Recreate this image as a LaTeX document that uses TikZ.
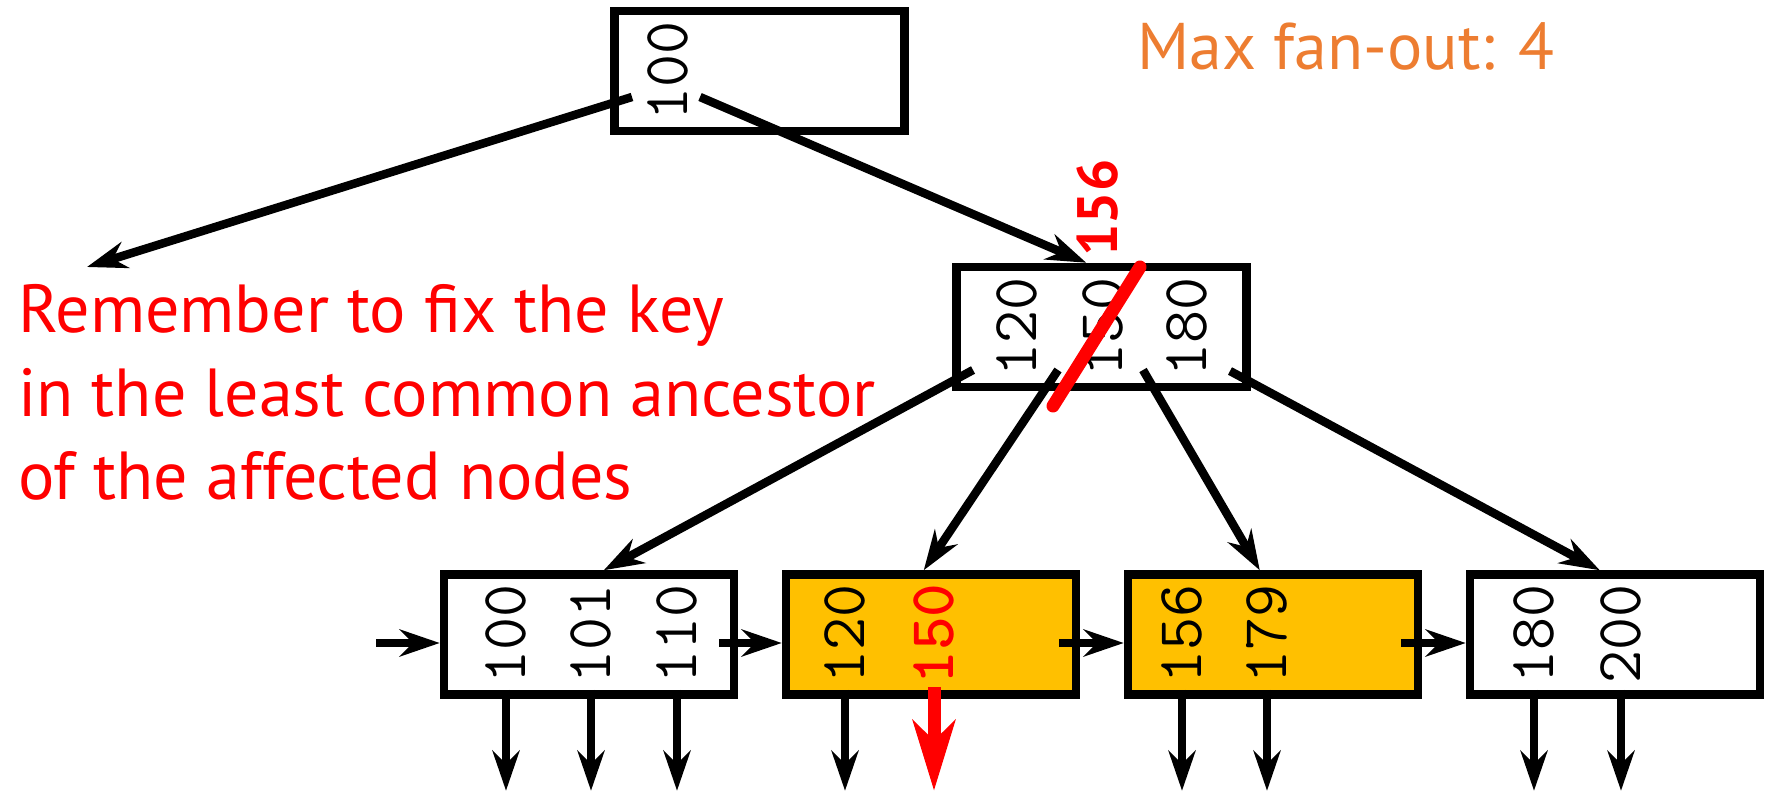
\documentclass[tikz,border=0pt]{standalone}
\usepackage{fontspec}
\setmainfont{PT Sans}
\usetikzlibrary{arrows.meta,calc}
\definecolor{gold}{HTML}{FFC000}
\definecolor{note}{HTML}{FF0000}
\definecolor{fan}{HTML}{ED7D31}
\tikzset{
  box/.style={draw, rectangle, line width=8.5pt, minimum width=290pt,
    minimum height=120pt, inner sep=0pt},
  hot/.style={box, fill=gold},
  key/.style={rotate=90, inner sep=0pt,
    font=\ttfamily\fontsize{64}{64}\selectfont},
  ptr/.style={line width=8.5pt, -{Stealth[length=40pt, width=27pt, inset=13pt]}},
  bigptr/.style={note, line width=13pt, -{Stealth[length=70pt, width=42pt, inset=20pt]}},
  remark/.style={note, anchor=base west, inner sep=0pt,
    font=\fontsize{68}{68}\selectfont},
}
\begin{document}
\begin{tikzpicture}[x=1pt, y=-1pt]
\useasboundingbox (0,0) rectangle (1766,791);

% root, inner node and leaves
\node[box] (root) at (759.5,71) {};
\node[box] (mid)  at (1101.5,327) {};
\node[box] (b1) at (589,634.5) {};
\node[hot] (b2) at (931,634.5) {};
\node[hot] (b3) at (1273,634.5) {};
\node[box] (b4) at (1615,634.5) {};

% keys
\node[key] (r1) at (668,71) {100};
\node[key] (m1) at (1017,327) {120};
\node[key] (m2) at (1103,327) {150};
\node[key] (m3) at (1187,327) {180};
\node[key] (k11) at (506,634) {100};
\node[key] (k12) at (591,634) {101};
\node[key] (k13) at (677,634) {110};
\node[key] (k21) at (845,634) {120};
\node[key, text=note, font=\ttfamily\bfseries\fontsize{64}{64}\selectfont] (k22) at (934,634) {150};
\node[key] (k31) at (1182,634) {156};
\node[key] (k32) at (1267,634) {179};
\node[key] (k41) at (1534,634) {180};
\node[key] (k42) at (1621,634) {200};

% pointer origins inside the internal nodes
\coordinate (rp0) at (632,97);
\coordinate (rp1) at (700,97);
\coordinate (mp0) at (973,370);
\coordinate (mp1) at (1058,370);
\coordinate (mp2) at (1143,370);
\coordinate (mp3) at (1230,371);
\coordinate (lost) at (87,267);

% child pointers
\draw[ptr] (rp0) -- (lost);
\draw[ptr] (rp1) -- ($(mid.north west)+(134,0)$);
\draw[ptr] (mp0) -- ($(b1.north west)+(164,0)$);
\draw[ptr] (mp1) -- ($(b2.north west)+(142,0)$);
\draw[ptr] (mp2) -- ($(b3.north west)+(136,0)$);
\draw[ptr] (mp3) -- ($(b4.north west)+(134,0)$);

% sibling links
\coordinate (in) at (376,643);
\coordinate (s1) at (719,643);
\coordinate (s2) at (1059,643);
\coordinate (s3) at (1401,643);
\draw[ptr] (in) -- (in -| b1.west);
\draw[ptr] (s1) -- (s1 -| b2.west);
\draw[ptr] (s2) -- (s2 -| b3.west);
\draw[ptr] (s3) -- (s3 -| b4.west);

% record pointers below the leaves
\foreach \k/\b in {k11/b1,k12/b1,k13/b1,k21/b2,k31/b3,k32/b3,k41/b4,k42/b4}
  \draw[ptr] ([yshift=9pt]\k.center |- \b.south) -- ++(0,101);
\draw[bigptr] ([yshift=12pt]k22.center |- b2.south) -- ++(0,104);

% stale separator crossed out, new one above
\draw[note, line width=13pt, line cap=round] (1140,267) -- (1053,406);
\node[key, text=note, font=\bfseries\fontsize{57}{57}\selectfont] (newkey) at (1098,208) {156};

% notes
\node[remark, text=fan, font=\fontsize{66}{66}\selectfont] (fanout) at (1137,70) {Max fan-out: 4};
\node[remark] (l1) at (18,333) {Remember to fix the key};
\node[remark] (l2) at (18,416) {in the least common ancestor};
\node[remark] (l3) at (18,499) {of the affected nodes};
\end{tikzpicture}
\end{document}
